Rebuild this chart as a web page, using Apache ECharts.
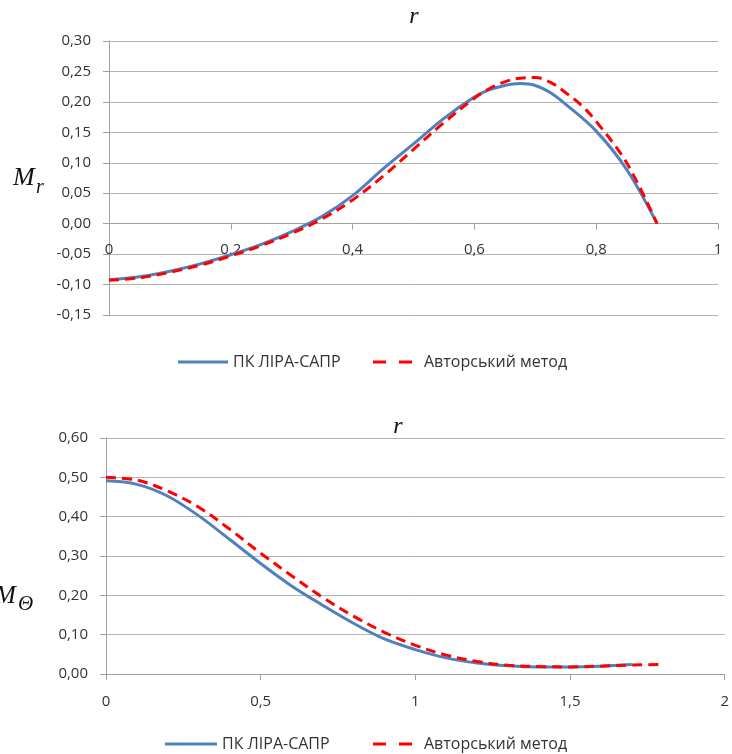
<!DOCTYPE html>
<html>
<head>
<meta charset="utf-8">
<script src="https://cdn.jsdelivr.net/npm/echarts@6/dist/echarts.min.js"></script>
<style>
  html, body { margin: 0; padding: 0; background: #fff; }
  #chart { width: 732px; height: 754px; }
</style>
</head>
<body>
<div id="chart"></div>
<script>
// top chart: M_r vs r
var rTopLira = [0, 0.05, 0.1, 0.15, 0.2, 0.25, 0.3, 0.35, 0.4, 0.45, 0.5, 0.55, 0.6, 0.625, 0.65, 0.675, 0.7, 0.725, 0.75, 0.8, 0.85, 0.9];
var mrLira = [-0.092, -0.087, -0.078, -0.066, -0.051, -0.034, -0.013, 0.012, 0.046, 0.090, 0.131, 0.173, 0.208, 0.220, 0.227, 0.230, 0.227, 0.215, 0.196, 0.152, 0.089, 0.0];
var rTopAuthor = [0, 0.05, 0.1, 0.15, 0.2, 0.25, 0.3, 0.35, 0.4, 0.45, 0.5, 0.55, 0.6, 0.625, 0.65, 0.675, 0.7, 0.725, 0.75, 0.775, 0.8, 0.85, 0.9];
var mrAuthor = [-0.093, -0.089, -0.080, -0.068, -0.053, -0.036, -0.016, 0.008, 0.039, 0.078, 0.122, 0.166, 0.206, 0.222, 0.233, 0.239, 0.240, 0.232, 0.215, 0.195, 0.168, 0.100, 0.0];

// bottom chart: M_theta vs r
var rLira = [0, 0.1, 0.2, 0.3, 0.4, 0.5, 0.6, 0.7, 0.8, 0.9, 1.0, 1.1, 1.2, 1.3, 1.4, 1.5, 1.6, 1.7];
var mtLira = [0.491, 0.482, 0.452, 0.402, 0.342, 0.281, 0.224, 0.175, 0.129, 0.089, 0.062, 0.041, 0.028, 0.021, 0.018, 0.018, 0.020, 0.024];
var rAuthor = [0, 0.1, 0.2, 0.3, 0.4, 0.5, 0.6, 0.7, 0.8, 0.9, 1.0, 1.1, 1.2, 1.3, 1.4, 1.5, 1.6, 1.7, 1.8];
var mtAuthor = [0.500, 0.493, 0.465, 0.424, 0.368, 0.307, 0.250, 0.195, 0.147, 0.106, 0.073, 0.048, 0.032, 0.022, 0.019, 0.018, 0.020, 0.023, 0.024];

var nameLira = "ПК ЛІРА-САПР";
var nameAuthor = "Авторський метод";

function pairs(xs, ys) {
  return xs.map(function (x, i) { return [x, ys[i]]; });
}
function comma(v) { return String(v).replace(".", ","); }
function comma2(v) { return v.toFixed(2).replace(".", ","); }

var textColor = "#333";
var gridColor = "#b4b4b4";
var axisColor = "#a0a0a0";
var font = "Open Sans";

// x axis line sits at y = 0 (offset up from the grid bottom)
function xAxisCfg(idx, max, interval, margin, offset) {
  return {
    type: "value", gridIndex: idx, min: 0, max: max, interval: interval, offset: offset,
    axisLine: { show: true, onZero: false, lineStyle: { color: axisColor, width: 1 } },
    axisTick: { show: true, length: 6, lineStyle: { color: axisColor } },
    axisLabel: { margin: margin, color: textColor, fontFamily: font, fontSize: 15, formatter: comma },
    splitLine: { show: false }
  };
}
function yAxisCfg(idx, min, max, interval) {
  return {
    type: "value", gridIndex: idx, min: min, max: max, interval: interval,
    axisLine: { show: true, lineStyle: { color: axisColor, width: 1 } },
    axisTick: { show: true, length: 6, lineStyle: { color: axisColor } },
    axisLabel: { margin: 18, color: textColor, fontFamily: font, fontSize: 15, formatter: comma2 },
    splitLine: { show: true, lineStyle: { color: gridColor, width: 1 } }
  };
}
function legendCfg(name, icon, width, left, top, pad) {
  return {
    data: [{ name: name, icon: icon }],
    left: left, top: top, itemWidth: width, itemHeight: 3, selectedMode: false,
    symbolKeepAspect: false,
    formatter: pad ? "{g| }{name}" : "{name}",
    textStyle: {
      color: textColor, fontFamily: font, fontSize: 16,
      rich: { g: { width: pad } }
    }
  };
}
var iconLine = "path://M0 0H50V3H0Z";
var iconDash = "path://M0 0H13V3H0ZM26 0H39V3H26Z";

function lira(xi, data) {
  return {
    name: nameLira, type: "line", xAxisIndex: xi, yAxisIndex: xi, data: data,
    smooth: 0.35, showSymbol: false, color: "#4f81bd",
    lineStyle: { color: "#4f81bd", width: 3 }, z: 2
  };
}
function author(xi, data) {
  return {
    name: nameAuthor, type: "line", xAxisIndex: xi, yAxisIndex: xi, data: data,
    smooth: 0.35, showSymbol: false, color: "#ff0000",
    lineStyle: { color: "#ff0000", width: 3, type: [10, 6] }, z: 3
  };
}

var myChart = echarts.init(document.getElementById("chart"));
myChart.setOption({
  animation: false,
  grid: [
    { left: 109, top: 41, width: 609, height: 274 },
    { left: 106, top: 438, width: 627, height: 236 }
  ],
  xAxis: [xAxisCfg(0, 1, 0.2, 19, -274 / 3), xAxisCfg(1, 2, 0.5, 20, 0)],
  yAxis: [yAxisCfg(0, -0.15, 0.3, 0.05), yAxisCfg(1, 0, 0.6, 0.1)],
  legend: [
    legendCfg(nameLira, iconLine, 50, 173, 349, 0),
    legendCfg(nameAuthor, iconDash, 39, 368, 349, 7),
    legendCfg(nameLira, iconLine, 52, 160, 731, 0),
    legendCfg(nameAuthor, iconDash, 39, 368, 731, 7)
  ],
  graphic: [
    { type: "text", x: 414, y: 17, style: { text: "r", fontFamily: "Liberation Serif", fontStyle: "italic", fontSize: 24, fill: "#111", align: "center", verticalAlign: "middle" } },
    { type: "text", x: 398, y: 427, style: { text: "r", fontFamily: "Liberation Serif", fontStyle: "italic", fontSize: 24, fill: "#111", align: "center", verticalAlign: "middle" } },
    { type: "text", x: 13, y: 178, style: { text: "M", fontFamily: "Liberation Serif", fontStyle: "italic", fontSize: 26, fill: "#111", verticalAlign: "middle" } },
    { type: "text", x: 36, y: 188, style: { text: "r", fontFamily: "Liberation Serif", fontStyle: "italic", fontSize: 20, fill: "#111", verticalAlign: "middle" } },
    { type: "text", x: -5, y: 596, style: { text: "M", fontFamily: "Liberation Serif", fontStyle: "italic", fontSize: 25, fill: "#111", verticalAlign: "middle" } },
    { type: "text", x: 18, y: 604, style: { text: "Θ", fontFamily: "Liberation Serif", fontStyle: "italic", fontSize: 21, fill: "#111", verticalAlign: "middle" } }
  ],
  series: [
    lira(0, pairs(rTopLira, mrLira)),
    author(0, pairs(rTopAuthor, mrAuthor)),
    lira(1, pairs(rLira, mtLira)),
    author(1, pairs(rAuthor, mtAuthor))
  ]
});
window.onresize = function () { myChart.resize(); };
</script>
</body>
</html>
